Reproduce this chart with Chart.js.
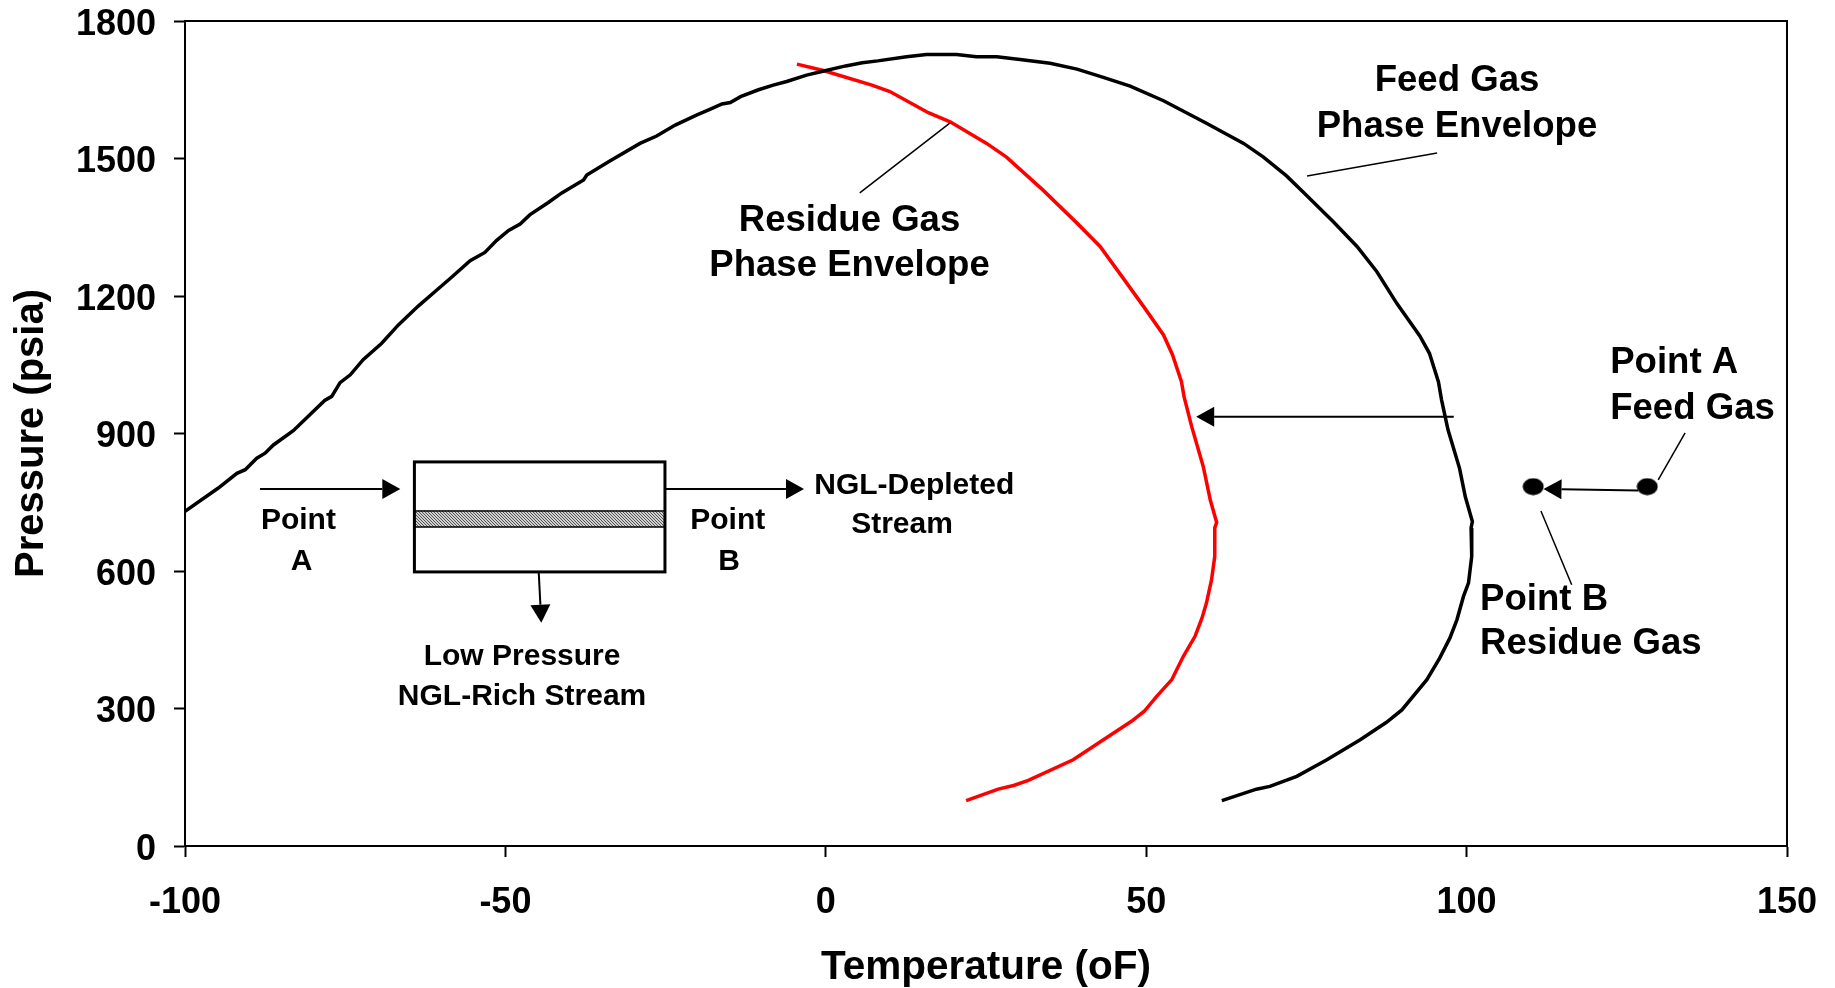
<!DOCTYPE html>
<html>
<head>
<meta charset="utf-8">
<title>Phase Envelope</title>
<script src="https://cdn.jsdelivr.net/npm/chart.js@4"></script>
<style>
  html, body { margin: 0; padding: 0; background: #fff; }
  canvas { display: block; }
</style>
</head>
<body>
<canvas id="envelope" width="1835" height="988"></canvas>
<script>
// Curves: temperature (oF), pressure (psia)
const feedTemp = [-100, -94.8, -91.9, -90.6, -88.8, -87.5, -86.2, -83.1, -80.8, -78.2, -77.1, -75.8, -74.2, -72.2, -69.3, -66.7, -63.6, -60.7, -58.4, -55.5, -53.2, -51.4, -49.5, -47.7, -46.2, -43.3, -41.2, -37.8, -37.3, -33.9, -29, -26.4, -23.5, -20.1, -18.1, -16.2, -14.9, -13.3, -10.5, -8.2, -6.1, -3, -0.3, 3.1, 5.7, 8.1, 12.6, 15.7, 20.4, 23.5, 26.7, 30.3, 35, 39.2, 43.3, 47.5, 52.7, 59.4, 65.2, 68.3, 71.9, 75, 79.2, 82.9, 86, 89.1, 92.7, 94.2, 95.6, 96.1, 97.1, 98.9, 99.8, 100.9, 100.7, 100.8, 100.3, 99.5, 98.5, 97.4, 95.8, 93.8, 89.9, 87.5, 83.4, 78.2, 73.5, 69.3, 67.2, 61.8];
const feedPres = [730, 781, 813, 821, 846, 857, 875, 906, 937, 972, 981, 1011, 1028, 1061, 1097, 1137, 1178, 1213, 1241, 1277, 1295, 1321, 1343, 1357, 1377, 1404, 1425, 1453, 1464, 1493, 1533, 1549, 1573, 1595, 1607, 1619, 1622, 1635, 1650, 1660, 1668, 1682, 1691, 1702, 1709, 1713, 1722, 1727, 1727, 1722, 1722, 1716, 1708, 1695, 1677, 1658, 1626, 1577, 1533, 1503, 1462, 1420, 1362, 1308, 1253, 1184, 1113, 1075, 1013, 973, 908, 824, 762, 708, 694, 632, 574, 544, 494, 454, 410, 363, 297, 270, 232, 188, 152, 130, 124, 99];
const residueTemp = [-4.5, -0.4, 7.2, 10, 16, 19.4, 25.1, 28.2, 33.9, 39.2, 42.8, 46.4, 49.8, 52.7, 54.1, 55.5, 55.9, 57.1, 58.9, 60, 61, 60.7, 60.7, 60.2, 59.4, 58.7, 57.6, 55.8, 54, 51.6, 49.7, 47.7, 43.8, 38.6, 31.6, 29.3, 26.9, 21.9];
const residuePres = [1706, 1692, 1660, 1646, 1600, 1580, 1533, 1503, 1431, 1359, 1308, 1239, 1173, 1115, 1072, 1013, 981, 915, 828, 755, 706, 694, 632, 581, 530, 497, 457, 414, 363, 326, 294, 272, 236, 188, 143, 132, 124, 99];
const pointTemp = [128.2, 110.4];
const pointPres = [784, 784];

const xTicks = [-100, -50, 0, 50, 100, 150];
const yTicks = [0, 300, 600, 900, 1200, 1500, 1800];

// Annotations, all in data units: [x1, y1, x2, y2]
const arrows = [
  [-88.3, 779, -66.4, 779],
  [-25.1, 779, -3.4, 779],
  [-44.8, 598, -44.4, 487],
  [98, 936.7, 57.8, 936.7],
  [126.8, 775.6, 112, 779]
];
const leaders = [
  [134.1, 901.4, 129.9, 799],
  [111.6, 731, 116.4, 570],
  [19.4, 1577.6, 5.3, 1424.8],
  [75.1, 1461.9, 95.4, 1512]
];
const bigLabels = [
  ["Feed Gas", 98.5, 1675.7, "center"],
  ["Phase Envelope", 98.5, 1575.4, "center"],
  ["Residue Gas", 3.7, 1371, "center"],
  ["Phase Envelope", 3.7, 1271.5, "center"],
  ["Point A", 122.4, 1059.5, "left"],
  ["Feed Gas", 122.4, 960, "left"],
  ["Point B", 102.1, 543.7, "left"],
  ["Residue Gas", 102.1, 447, "left"]
];
const smallLabels = [
  ["Point", -82.3, 714],
  ["A", -81.8, 624],
  ["Point", -15.3, 714],
  ["B", -15.1, 624],
  ["NGL-Depleted", 13.8, 790],
  ["Stream", 11.9, 705],
  ["Low Pressure", -47.4, 417],
  ["NGL-Rich Stream", -47.4, 330]
];
// membrane box and its shaded band
const box = { left: -64.2, right: -25.1, top: 838, bottom: 598, bandTop: 731, bandBottom: 696 };

const FONT = '"Liberation Sans", Arial, sans-serif';

function toPoints(xs, ys) {
  return xs.map((x, i) => ({ x: x, y: ys[i] }));
}

// Point A / Point B markers are slightly wider than tall
function ellipseMarker() {
  const c = document.createElement("canvas");
  c.width = 22;
  c.height = 18;
  const g = c.getContext("2d");
  g.fillStyle = "#000";
  g.beginPath();
  g.ellipse(11, 9, 10.5, 8.5, 0, 0, Math.PI * 2);
  g.fill();
  return c;
}

function hatchPattern(ctx) {
  const c = document.createElement("canvas");
  c.width = 3;
  c.height = 3;
  const g = c.getContext("2d");
  g.fillStyle = "#d0d0d0";
  g.fillRect(0, 0, 3, 3);
  g.fillStyle = "#555";
  for (let i = 0; i < 3; i++) g.fillRect(i, i, 1, 1);
  return ctx.createPattern(c, "repeat");
}

function drawArrow(ctx, x1, y1, x2, y2) {
  const a = Math.atan2(y2 - y1, x2 - x1);
  const len = 18, half = 10;
  const bx = x2 - len * Math.cos(a), by = y2 - len * Math.sin(a);
  ctx.lineWidth = 2;
  ctx.beginPath();
  ctx.moveTo(x1, y1);
  ctx.lineTo(bx, by);
  ctx.stroke();
  ctx.beginPath();
  ctx.moveTo(x2, y2);
  ctx.lineTo(bx - half * Math.sin(a), by + half * Math.cos(a));
  ctx.lineTo(bx + half * Math.sin(a), by - half * Math.cos(a));
  ctx.closePath();
  ctx.fill();
}

// stop the scales reserving extra room for overhanging tick labels
function noOverhang(s) {
  s.paddingLeft = 0;
  s.paddingRight = 0;
  s.paddingTop = 0;
  s.paddingBottom = 0;
}

const annotationPlugin = {
  id: "annotations",
  afterDraw(chart) {
    const ctx = chart.ctx;
    const area = chart.chartArea;
    const X = v => chart.scales.x.getPixelForValue(v);
    const Y = v => chart.scales.y.getPixelForValue(v);

    ctx.save();
    ctx.strokeStyle = "#000";
    ctx.fillStyle = "#000";

    // frame round the plot
    ctx.lineWidth = 2;
    ctx.strokeRect(area.left, area.top, area.right - area.left, area.bottom - area.top);

    // membrane box
    ctx.fillStyle = hatchPattern(ctx);
    ctx.fillRect(X(box.left), Y(box.bandTop), X(box.right) - X(box.left), Y(box.bandBottom) - Y(box.bandTop));
    ctx.fillStyle = "#000";
    ctx.lineWidth = 1.5;
    ctx.strokeRect(X(box.left), Y(box.bandTop), X(box.right) - X(box.left), Y(box.bandBottom) - Y(box.bandTop));
    ctx.lineWidth = 3;
    ctx.strokeRect(X(box.left), Y(box.top), X(box.right) - X(box.left), Y(box.bottom) - Y(box.top));

    arrows.forEach(a => drawArrow(ctx, X(a[0]), Y(a[1]), X(a[2]), Y(a[3])));

    ctx.lineWidth = 1.5;
    leaders.forEach(l => {
      ctx.beginPath();
      ctx.moveTo(X(l[0]), Y(l[1]));
      ctx.lineTo(X(l[2]), Y(l[3]));
      ctx.stroke();
    });

    // canvas "middle" sits a little high for this font
    ctx.textBaseline = "middle";
    ctx.font = "bold 36.6px " + FONT;
    bigLabels.forEach(t => {
      ctx.textAlign = t[3];
      ctx.fillText(t[0], X(t[1]), Y(t[2]) + 3);
    });
    ctx.font = "bold 30px " + FONT;
    ctx.textAlign = "center";
    smallLabels.forEach(t => ctx.fillText(t[0], X(t[1]), Y(t[2]) + 2));
    ctx.restore();
  }
};

new Chart(document.getElementById("envelope").getContext("2d"), {
  type: "scatter",
  data: {
    datasets: [
      {
        label: "Feed Gas Phase Envelope",
        data: toPoints(feedTemp, feedPres),
        showLine: true,
        borderColor: "#000",
        borderWidth: 3.5,
        pointRadius: 0,
        tension: 0
      },
      {
        label: "Residue Gas Phase Envelope",
        data: toPoints(residueTemp, residuePres),
        showLine: true,
        borderColor: "#ff0000",
        borderWidth: 3.5,
        pointRadius: 0,
        tension: 0
      },
      {
        label: "Points",
        data: toPoints(pointTemp, pointPres),
        showLine: false,
        pointStyle: ellipseMarker(),
        pointRadius: 10
      }
    ]
  },
  options: {
    responsive: false,
    animation: false,
    layout: { padding: { top: 21, right: 48, left: 0, bottom: 0 } },
    plugins: { legend: { display: false }, tooltip: { enabled: false } },
    scales: {
      x: {
        type: "linear",
        min: -100,
        max: 150,
        afterFit: s => { s.height = 142; noOverhang(s); },
        afterBuildTicks: s => { s.ticks = xTicks.map(v => ({ value: v })); },
        grid: { drawOnChartArea: false, color: "#000", tickLength: 11, tickWidth: 2 },
        border: { color: "#000", width: 2 },
        ticks: {
          color: "#000",
          maxRotation: 0,
          padding: 24,
          callback: v => String(v),
          font: { family: FONT, size: 36, weight: "bold" }
        },
        title: {
          display: true,
          text: "Temperature (oF)",
          color: "#000",
          padding: { top: 0, bottom: 0 },
          font: { family: FONT, size: 40.5, weight: "bold", lineHeight: 1 }
        }
      },
      y: {
        type: "linear",
        min: 0,
        max: 1800,
        afterFit: s => { s.width = 185; noOverhang(s); },
        afterBuildTicks: s => { s.ticks = yTicks.map(v => ({ value: v })); },
        grid: { drawOnChartArea: false, color: "#000", tickLength: 11, tickWidth: 2 },
        border: { color: "#000", width: 2 },
        ticks: {
          color: "#000",
          padding: 18,
          labelOffset: 4,
          callback: v => String(v),
          font: { family: FONT, size: 36, weight: "bold" }
        },
        title: {
          display: true,
          text: "Pressure (psia)",
          color: "#000",
          padding: { top: 12, bottom: 0 },
          font: { family: FONT, size: 40, weight: "bold", lineHeight: 1 }
        }
      }
    }
  },
  plugins: [annotationPlugin]
});
</script>
</body>
</html>
